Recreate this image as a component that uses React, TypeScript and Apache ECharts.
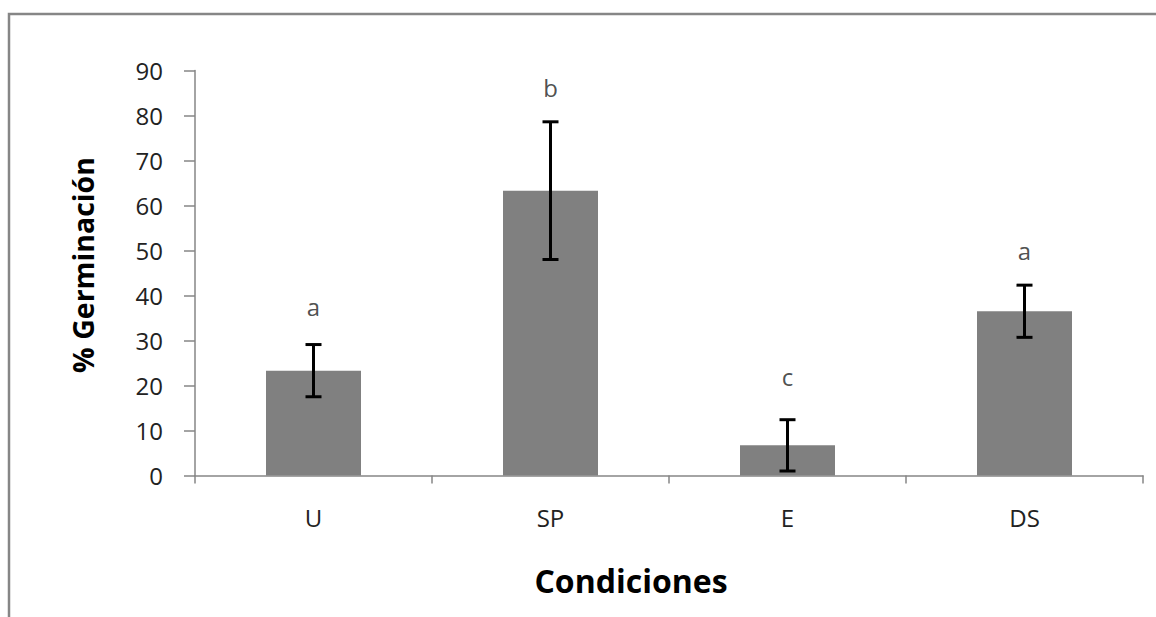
import React, { useEffect, useRef } from "react";
import * as echarts from "echarts";

const categories = ["U", "SP", "E", "DS"];
const means = [23.3, 63.3, 6.7, 36.5];
const errors = [5.8, 15.3, 5.7, 5.8];
const letters = ["a", "b", "c", "a"];
const letterLevels = [37.6, 86.3, 21.9, 50.1];
const yTicks = { min: 0, max: 90, interval: 10 };

const FONT = "'Open Sans', 'DejaVu Sans', sans-serif";
const GRAY = "#868686";

export default function App() {
  const ref = useRef<HTMLDivElement>(null);
  useEffect(() => {
    if (!ref.current) return;
    const chart = echarts.init(ref.current, null, { renderer: "svg" });
    const errData = means.map((m, i) => [i, m - errors[i], m + errors[i]]);
    const letterData = letters.map((l, i) => ({ value: [i, letterLevels[i]], name: l }));
    chart.setOption({
      animation: false,
      backgroundColor: "#ffffff",
      graphic: [
        {
          type: "rect",
          shape: { x: 9, y: 14, width: 1200, height: 700 },
          style: { fill: "none", stroke: GRAY, lineWidth: 2.5 },
          silent: true,
        },
      ],
      grid: { left: 195, right: 13, top: 70.5, bottom: 141.5, containLabel: false },
      xAxis: {
        type: "category",
        data: categories,
        boundaryGap: true,
        name: "Condiciones",
        nameLocation: "middle",
        nameGap: 89,
        nameTextStyle: {
          fontFamily: FONT,
          fontWeight: "bold",
          fontSize: 32,
          color: "#000",
          padding: [0, 76, 0, 0],
        },
        axisLine: { lineStyle: { color: GRAY, width: 1.5 } },
        axisTick: { show: true, length: 8, alignWithLabel: false, lineStyle: { color: GRAY, width: 1.5 } },
        axisLabel: { fontFamily: FONT, fontSize: 24, color: "#222", margin: 30 },
      },
      yAxis: {
        type: "value",
        min: yTicks.min,
        max: yTicks.max,
        interval: yTicks.interval,
        name: "% Germinación",
        nameLocation: "middle",
        nameGap: 98,
        nameTextStyle: {
          fontFamily: FONT,
          fontWeight: "bold",
          fontSize: 28.5,
          color: "#000",
          padding: [0, 0, 0, 16],
        },
        splitLine: { show: false },
        axisLine: { show: true, lineStyle: { color: GRAY, width: 1.5 } },
        axisTick: { show: true, length: 11, inside: false, lineStyle: { color: GRAY, width: 1.5 } },
        axisLabel: { fontFamily: FONT, fontSize: 24, color: "#222", margin: 32 },
      },
      series: [
        {
          type: "bar",
          data: means,
          barWidth: 95,
          itemStyle: { color: "#808080" },
          z: 2,
        },
        {
          type: "custom",
          data: errData,
          z: 3,
          renderItem: (params: any, api: any) => {
            const x = api.value(0);
            const lo = api.coord([x, api.value(1)]);
            const hi = api.coord([x, api.value(2)]);
            const hw = 8;
            const style = { stroke: "#000", lineWidth: 3 };
            return {
              type: "group",
              children: [
                { type: "line", shape: { x1: lo[0], y1: lo[1], x2: hi[0], y2: hi[1] }, style },
                { type: "line", shape: { x1: lo[0] - hw, y1: lo[1], x2: lo[0] + hw, y2: lo[1] }, style },
                { type: "line", shape: { x1: hi[0] - hw, y1: hi[1], x2: hi[0] + hw, y2: hi[1] }, style },
              ],
            };
          },
        },
        {
          type: "scatter",
          data: letterData,
          symbolSize: 0,
          z: 4,
          label: {
            show: true,
            position: "inside",
            formatter: (p: any) => p.name,
            fontFamily: FONT,
            fontSize: 24,
            color: "#222",
          },
        },
      ],
    });
    return () => chart.dispose();
  }, []);
  return (
    <div
      ref={ref}
      style={{ position: "absolute", left: 0, top: 0, width: 1156, height: 617 }}
    />
  );
}
